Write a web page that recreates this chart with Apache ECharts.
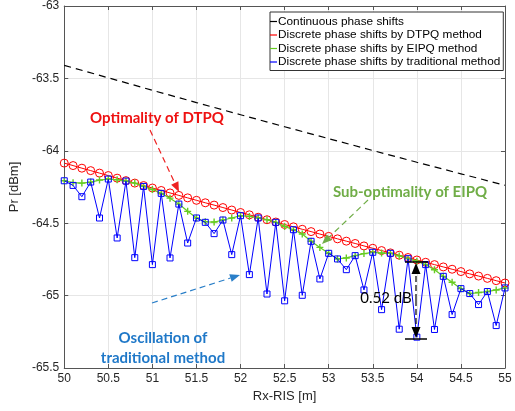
<!DOCTYPE html>
<html><head><meta charset="utf-8">
<script src="https://cdn.jsdelivr.net/npm/echarts@6/dist/echarts.min.js"></script>
<style>html,body{margin:0;padding:0;background:#fff}#c{width:515px;height:411px}</style>
</head><body><div id="c"></div>
<script>
const xFine = [50.0,50.1,50.2,50.3,50.4,50.5,50.6,50.7,50.8,50.9,51.0,51.1,51.2,51.3,51.4,51.5,51.6,51.7,51.8,51.9,52.0,52.1,52.2,52.3,52.4,52.5,52.6,52.7,52.8,52.9,53.0,53.1,53.2,53.3,53.4,53.5,53.6,53.7,53.8,53.9,54.0,54.1,54.2,54.3,54.4,54.5,54.6,54.7,54.8,54.9,55.0];
const xCoarse = [50.0,50.5,51.0,51.5,52.0,52.5,53.0,53.5,54.0,54.5,55.0];
const continuous = [-63.410,-63.496,-63.582,-63.667,-63.751,-63.834,-63.916,-63.998,-64.079,-64.159,-64.238];
const dtpq = [-64.085,-64.102,-64.120,-64.137,-64.154,-64.171,-64.189,-64.206,-64.223,-64.240,-64.257,-64.274,-64.291,-64.308,-64.325,-64.342,-64.359,-64.375,-64.392,-64.409,-64.426,-64.442,-64.459,-64.476,-64.492,-64.509,-64.525,-64.542,-64.558,-64.575,-64.591,-64.608,-64.624,-64.640,-64.657,-64.673,-64.689,-64.705,-64.721,-64.737,-64.754,-64.770,-64.786,-64.802,-64.818,-64.834,-64.850,-64.865,-64.881,-64.897,-64.913];
const eipq = [-64.207,-64.220,-64.223,-64.216,-64.202,-64.195,-64.200,-64.209,-64.223,-64.246,-64.267,-64.294,-64.327,-64.368,-64.418,-64.464,-64.490,-64.492,-64.478,-64.464,-64.448,-64.453,-64.464,-64.476,-64.494,-64.522,-64.545,-64.575,-64.625,-64.667,-64.708,-64.747,-64.740,-64.724,-64.710,-64.701,-64.706,-64.708,-64.726,-64.745,-64.762,-64.786,-64.821,-64.867,-64.908,-64.952,-64.986,-64.979,-64.972,-64.961,-64.947];
const traditional = [-64.207,-64.239,-64.317,-64.216,-64.464,-64.195,-64.602,-64.209,-64.738,-64.246,-64.786,-64.294,-64.740,-64.368,-64.637,-64.464,-64.494,-64.572,-64.478,-64.717,-64.448,-64.855,-64.464,-64.989,-64.494,-65.036,-64.545,-64.998,-64.625,-64.885,-64.708,-64.747,-64.821,-64.724,-64.961,-64.701,-65.097,-64.708,-65.232,-64.745,-65.287,-64.786,-65.234,-64.867,-65.131,-64.952,-64.986,-65.062,-64.972,-65.207,-64.947];
const names = ['Continuous phase shifts','Discrete phase shifts by DTPQ method','Discrete phase shifts by EIPQ method','Discrete phase shifts by traditional method'];

const pair = (xs, ys) => xs.map((x, i) => [x, ys[i]]);
const RED = '#ff0000', GREEN = '#66cc22', BLUE = '#0000ff';
const AX = '#555555', TXT = '#262626';
const plusPath = 'path://M4,0H6V4H10V6H6V10H4V6H0V4H4Z';

function arrow(x1, y1, x2, y2, color, dash, hl, hw) {
  hl = hl || 10; hw = hw || 4;
  const dx = x2 - x1, dy = y2 - y1, L = Math.hypot(dx, dy);
  const ux = dx / L, uy = dy / L;
  const bx = x2 - ux * hl, by = y2 - uy * hl;
  return [
    {type:'line', shape:{x1:x1, y1:y1, x2:bx, y2:by}, style:{stroke:color, lineWidth:1.2, lineDash:dash}, z:100},
    {type:'polygon', shape:{points:[[x2,y2],[bx - uy*hw, by + ux*hw],[bx + uy*hw, by - ux*hw]]}, style:{fill:color}, z:100}
  ];
}

const chart = echarts.init(document.getElementById('c'), null, {renderer:'canvas'});
const fmt = v => String(Number(v.toFixed(1)));
const axisCommon = {
  axisLine:{show:true, lineStyle:{color:AX, width:1}},
  axisTick:{show:true, inside:true, length:4, lineStyle:{color:AX}},
};
const legendIcon = 'rect';
const legItem = (n, c) => ({name:n, icon:legendIcon, itemStyle:{color:c, borderWidth:0, borderColor:c}});
const option = {
  animation:false,
  backgroundColor:'#ffffff',
  grid:{left:58, right:10, top:6, bottom:43},
  xAxis:[
    Object.assign({type:'value', min:50, max:55, interval:0.5, position:'bottom',
      name:'Rx-RIS [m]', nameLocation:'middle', nameGap:22,
      nameTextStyle:{fontFamily:'Liberation Sans', fontSize:13, color:TXT},
      axisLabel:{fontFamily:'Liberation Sans', fontSize:12, color:TXT, margin:5, formatter:fmt},
      splitLine:{show:true, lineStyle:{color:'#e6e6e6', width:1}}}, axisCommon),
    Object.assign({type:'value', min:50, max:55, interval:0.5, position:'top',
      axisLabel:{show:false}, splitLine:{show:false}}, axisCommon)
  ],
  yAxis:[
    Object.assign({type:'value', min:-65.5, max:-63, interval:0.5, position:'left',
      name:'Pr [dBm]', nameLocation:'middle', nameGap:36,
      nameTextStyle:{fontFamily:'Liberation Sans', fontSize:13, color:TXT},
      axisLabel:{fontFamily:'Liberation Sans', fontSize:12, color:TXT, margin:5, formatter:fmt},
      splitLine:{show:true, lineStyle:{color:'#e6e6e6', width:1}}}, axisCommon),
    Object.assign({type:'value', min:-65.5, max:-63, interval:0.5, position:'right',
      axisLabel:{show:false}, splitLine:{show:false}}, axisCommon)
  ],
  legend:{
    orient:'vertical', left:270, top:12,
    backgroundColor:'#ffffff', borderColor:'#333333', borderWidth:1,
    padding:[3,3,2,0], itemGap:0.5, itemWidth:7, itemHeight:1.2,
    itemStyle:{borderWidth:0},
    textStyle:{fontFamily:'Liberation Sans', fontSize:11.8, color:'#000', padding:[0,0,0,-4], lineHeight:13},
    data:[legItem(names[0], '#000'), legItem(names[1], RED), legItem(names[2], GREEN), legItem(names[3], BLUE)]
  },
  series:[
    {name:names[0], type:'line', data:pair(xCoarse, continuous), showSymbol:false, symbol:'none',
     lineStyle:{color:'#000', width:1.2, type:[7,5]}, itemStyle:{color:'#000'}, z:2},
    {name:names[1], type:'line', data:pair(xFine, dtpq), symbol:'circle', symbolSize:8,
     lineStyle:{color:RED, width:1}, itemStyle:{color:'rgba(0,0,0,0)', borderColor:RED, borderWidth:1}, z:3},
    {name:names[2], type:'line', data:pair(xFine, eipq), symbol:plusPath, symbolSize:7,
     lineStyle:{color:GREEN, width:1.2}, itemStyle:{color:GREEN}, z:4},
    {name:names[3], type:'line', data:pair(xFine, traditional), symbol:'rect', symbolSize:6,
     lineStyle:{color:BLUE, width:1}, itemStyle:{color:'rgba(0,0,0,0)', borderColor:BLUE, borderWidth:1}, z:5}
  ],
  graphic:[].concat(
    arrow(150, 130, 179, 192, '#ee2222', [6,4]),
    arrow(368, 200, 322, 244, '#70ad47', [6,4]),
    arrow(152, 303, 240, 275, '#2a7fc8', [6,4]),
    [
      {type:'text', x:157, y:118, style:{text:'Optimality of DTPQ', fill:'#ee1111', font:'bold 15px Lato', textAlign:'center', textVerticalAlign:'middle'}, z:100},
      {type:'text', x:410, y:192, style:{text:'Sub-optimality of EIPQ', fill:'#70ad47', font:'bold 15px Lato', textAlign:'center', textVerticalAlign:'middle'}, z:100},
      {type:'text', x:163, y:338, style:{text:'Oscillation of', fill:'#1f78c8', font:'bold 15px Lato', textAlign:'center', textVerticalAlign:'middle'}, z:100},
      {type:'text', x:163, y:358, style:{text:'traditional method', fill:'#1f78c8', font:'bold 15px Lato', textAlign:'center', textVerticalAlign:'middle'}, z:100},
      {type:'text', x:386, y:298, style:{text:'0.52 dB', fill:'#000', font:'15px Lato', textAlign:'center', textVerticalAlign:'middle'}, z:100},
      {type:'line', shape:{x1:405, y1:262, x2:428, y2:262}, style:{stroke:'#000', lineWidth:1.5}, z:100},
      {type:'line', shape:{x1:405, y1:339, x2:427, y2:339}, style:{stroke:'#000', lineWidth:1.5}, z:100}
    ],
    arrow(416, 300, 416, 263, '#000', [6,3], 11, 4.5),
    arrow(416, 300, 416, 338, '#000', [6,3], 11, 4.5)
  )
};
chart.setOption(option);
</script></body></html>
